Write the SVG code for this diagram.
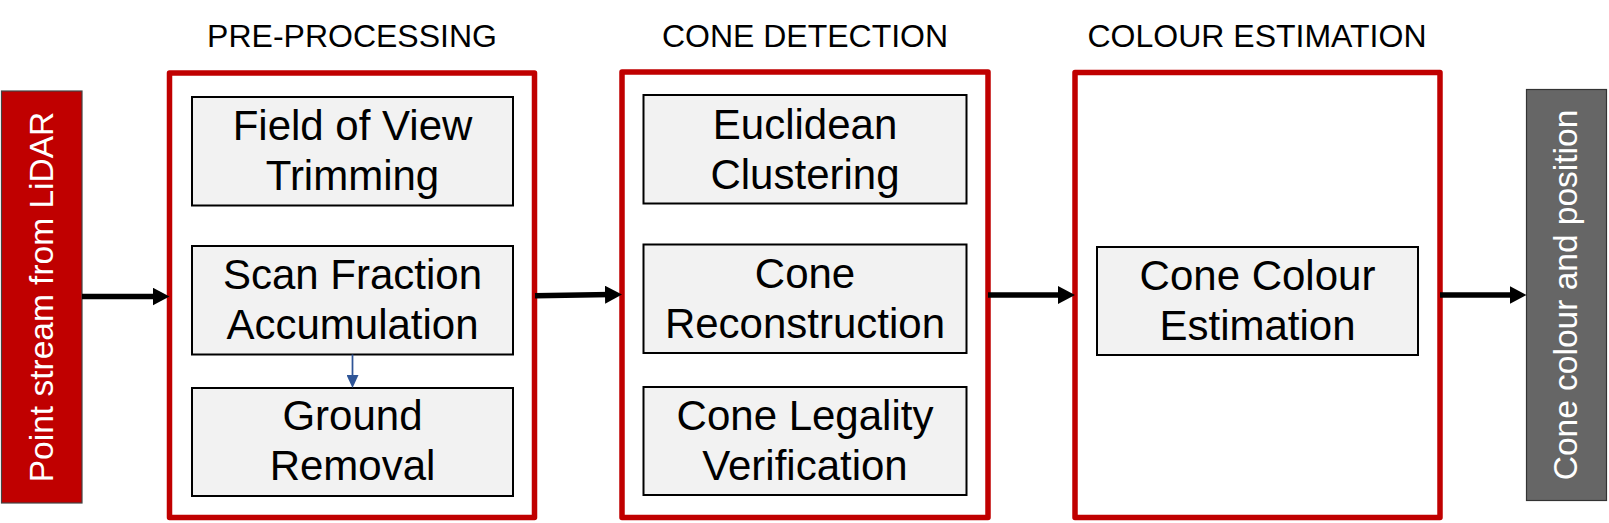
<svg xmlns="http://www.w3.org/2000/svg" width="1609" height="523" viewBox="0 0 1609 523">
  <style>
    .title { font-family: "Liberation Sans", Arial, Helvetica, sans-serif; font-size: 32px; fill: #000; text-anchor: middle; }
    .stage { fill: #ffffff; stroke: #c00000; stroke-width: 5.5; stroke-linejoin: round; }
    .step { fill: #f2f2f2; stroke: #000; stroke-width: 2; }
    .step-text { font-family: "Liberation Sans", Arial, Helvetica, sans-serif; font-size: 42px; fill: #000; text-anchor: middle; }
    .io-text { font-family: "Liberation Sans", Arial, Helvetica, sans-serif; font-size: 33.5px; fill: #fff; text-anchor: middle; }
    .flow { stroke: #000; stroke-width: 5.5; fill: none; marker-end: url(#head-black); }
    .inner-flow { stroke: #2f5597; stroke-width: 1.75; fill: none; marker-end: url(#head-blue); }
  </style>
  <defs>
    <marker id="head-black" viewBox="0 0 17 18" refX="6" refY="9" markerWidth="17" markerHeight="18" markerUnits="userSpaceOnUse" orient="auto">
      <path d="M0,0 L17,9 L0,18 z" fill="#000"/>
    </marker>
    <marker id="head-blue" viewBox="0 0 13 12" refX="4" refY="6" markerWidth="13" markerHeight="12" markerUnits="userSpaceOnUse" orient="auto">
      <path d="M0,0 L13,6 L0,12 z" fill="#2f5597"/>
    </marker>
  </defs>

  <rect width="1609" height="523" fill="#ffffff"/>

  <!-- stage headings -->
  <g id="headings">
    <text class="title" x="352" y="46.5">PRE-PROCESSING</text>
    <text class="title" x="805" y="46.5">CONE DETECTION</text>
    <text class="title" x="1257" y="46.5">COLOUR ESTIMATION</text>
  </g>

  <!-- input -->
  <g id="input-lidar">
    <rect x="1.5" y="91" width="80.5" height="412" fill="#c00000" stroke="#444" stroke-width="1.2"/>
    <text class="io-text" transform="translate(53,297) rotate(-90)">Point stream from LiDAR</text>
  </g>

  <!-- pre-processing stage -->
  <g id="pre-processing">
    <rect class="stage" x="169.5" y="73" width="365" height="444.5"/>
    <g id="fov-trimming">
      <rect class="step" x="192" y="97" width="321" height="108.5"/>
      <text class="step-text" x="352.5" y="140">Field of View</text>
      <text class="step-text" x="352.5" y="190">Trimming</text>
    </g>
    <g id="scan-accumulation">
      <rect class="step" x="192" y="246" width="321" height="108.5"/>
      <text class="step-text" x="352.5" y="288.5">Scan Fraction</text>
      <text class="step-text" x="352.5" y="338.5">Accumulation</text>
    </g>
    <g id="ground-removal">
      <rect class="step" x="192" y="388" width="321" height="108"/>
      <text class="step-text" x="352.5" y="430">Ground</text>
      <text class="step-text" x="352.5" y="480">Removal</text>
    </g>
  </g>

  <!-- cone detection stage -->
  <g id="cone-detection">
    <rect class="stage" x="622" y="72" width="366" height="445.5"/>
    <g id="euclidean-clustering">
      <rect class="step" x="643.5" y="95" width="323" height="108.5"/>
      <text class="step-text" x="805" y="139">Euclidean</text>
      <text class="step-text" x="805" y="188.5">Clustering</text>
    </g>
    <g id="cone-reconstruction">
      <rect class="step" x="643.5" y="244.5" width="323" height="108.5"/>
      <text class="step-text" x="805" y="288">Cone</text>
      <text class="step-text" x="805" y="338">Reconstruction</text>
    </g>
    <g id="cone-legality">
      <rect class="step" x="643.5" y="387" width="323" height="108"/>
      <text class="step-text" x="805" y="429.5">Cone Legality</text>
      <text class="step-text" x="805" y="479.5">Verification</text>
    </g>
  </g>

  <!-- colour estimation stage -->
  <g id="colour-estimation">
    <rect class="stage" x="1075" y="72.5" width="365" height="445"/>
    <g id="cone-colour-estimation">
      <rect class="step" x="1097" y="247" width="321" height="108"/>
      <text class="step-text" x="1257.5" y="290">Cone Colour</text>
      <text class="step-text" x="1257.5" y="340">Estimation</text>
    </g>
  </g>

  <!-- output -->
  <g id="output-cones">
    <rect x="1526.5" y="89.5" width="80" height="411" fill="#666666" stroke="#333" stroke-width="1.2"/>
    <text class="io-text" transform="translate(1576.5,295) rotate(-90)">Cone colour and position</text>
  </g>

  <!-- connectors -->
  <g id="connectors">
    <line class="flow" x1="82" y1="296.5" x2="158.5" y2="296.5"/>
    <line class="flow" x1="535" y1="295.7" x2="611" y2="294.6"/>
    <line class="flow" x1="988" y1="295" x2="1064" y2="295"/>
    <line class="flow" x1="1440" y1="295" x2="1515.5" y2="295"/>
    <line class="inner-flow" x1="352.5" y1="354.5" x2="352.5" y2="379"/>
  </g>
</svg>
